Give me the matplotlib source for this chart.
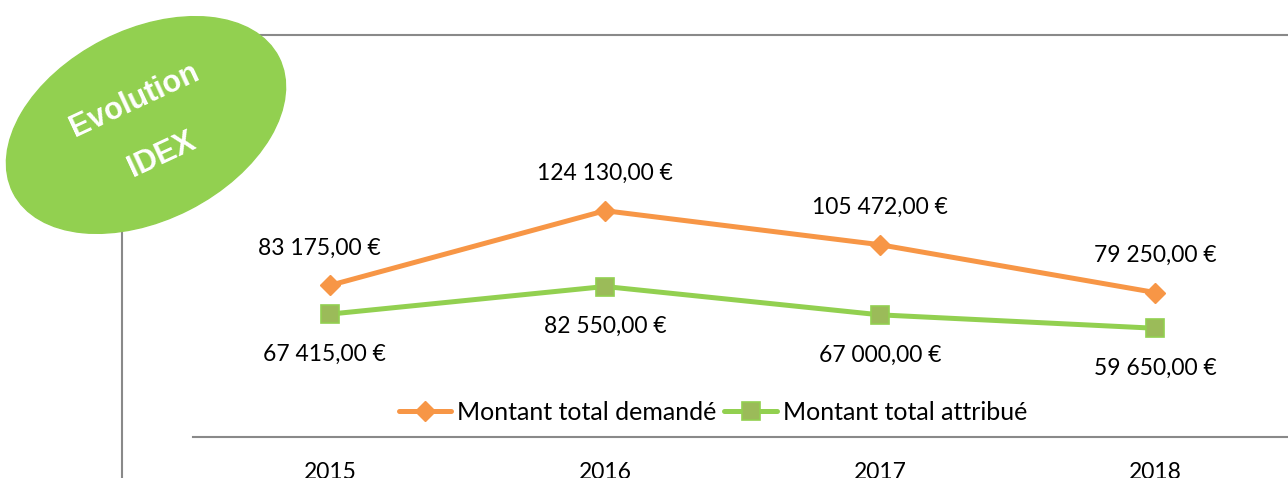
import matplotlib.pyplot as plt
from matplotlib.patches import Ellipse, Rectangle
from matplotlib.transforms import IdentityTransform

# données
annees = ['2015', '2016', '2017', '2018']
demande = [83175.00, 124130.00, 105472.00, 79250.00]
attribue = [67415.00, 82550.00, 67000.00, 59650.00]
lbl_demande = ['83 175,00 €', '124 130,00 €', '105 472,00 €', '79 250,00 €']
lbl_attribue = ['67 415,00 €', '82 550,00 €', '67 000,00 €', '59 650,00 €']

orange = '#F79646'
vert = '#92D050'
vert_fonce = '#9BBB59'
gris = '#898989'

plt.rcParams['font.family'] = ['Lato', 'DejaVu Sans']

W, H = 1288, 478
fig = plt.figure(figsize=(W / 100, H / 100), dpi=100)

# cadre du graphique (en partie hors image)
fig.patches.append(Rectangle((122 / W, -0.2), 1.5, (H - 35) / H + 0.2,
                             transform=fig.transFigure, fill=False,
                             edgecolor=gris, lw=1.5, zorder=0))

ax = fig.add_axes([192.5 / W, (H - 437) / H, 1100 / W, (437 - 35) / H])
ax.set_facecolor('none')
x = range(len(annees))
ax.plot(x, demande, color=orange, lw=3.6, marker='D', ms=10, mfc=orange,
        mec=orange, label='Montant total demandé', solid_capstyle='round')
ax.plot(x, attribue, color=vert, lw=3.6, marker='s', ms=13.5, mfc=vert_fonce,
        mec=vert, mew=1.2, label='Montant total attribué', solid_capstyle='round')

for i in x:
    ax.annotate(lbl_demande[i], (i, demande[i]), xytext=(-8 if i == 0 else 0, 27),
                textcoords='offset points', ha='center', va='center', fontsize=16.5)
    ax.annotate(lbl_attribue[i], (i, attribue[i]), xytext=(-4 if i == 0 else 0, -29),
                textcoords='offset points', ha='center', va='center', fontsize=16.5)

ax.set_xlim(-0.5, 3.5)
ax.set_ylim(0, 220500)
ax.set_xticks(list(x))
ax.set_xticklabels(annees, fontsize=16.5)
ax.tick_params(axis='x', length=0, pad=18)
ax.set_yticks([])
for s in ['top', 'left', 'right']:
    ax.spines[s].set_visible(False)
ax.spines['bottom'].set_color(gris)
ax.spines['bottom'].set_linewidth(1.5)

fig.legend(loc='center', bbox_to_anchor=(713 / W, 1 - 412 / H), ncol=2,
           frameon=False, fontsize=18, handlelength=2.1, handletextpad=0.25,
           columnspacing=0.3)

# pastille "Evolution IDEX" (en pixels)
fig.patches.append(Ellipse((146, H - 125), 298, 190, angle=27, color=vert,
                           zorder=5, transform=IdentityTransform()))
fig.text(135 / W, 1 - 100 / H, 'Evolution', color='white', fontsize=22,
         fontweight='bold', family='Liberation Sans', rotation=25,
         ha='center', va='center', zorder=6)
fig.text(162 / W, 1 - 155 / H, 'IDEX', color='white', fontsize=22,
         fontweight='bold', family='Liberation Sans', rotation=25,
         ha='center', va='center', zorder=6)

fig.savefig('out.png', dpi=100)
